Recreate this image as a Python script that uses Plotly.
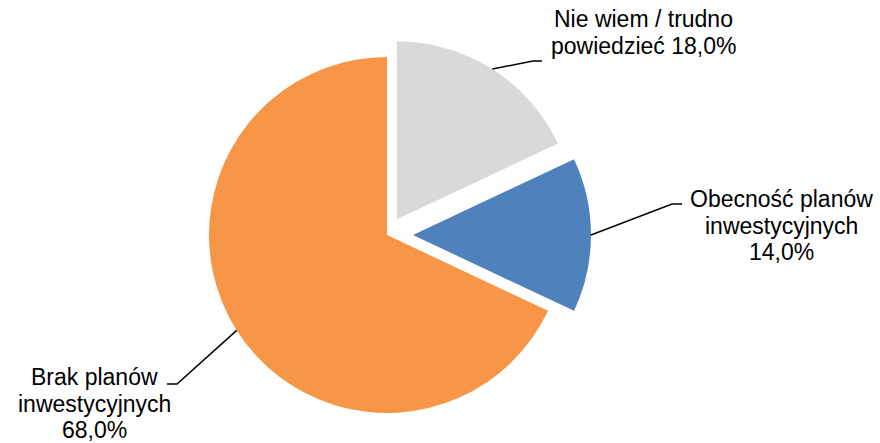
import math
import plotly.graph_objects as go

# ---- data ----
categories = ["Nie wiem / trudno powiedzieć", "Obecność planów inwestycyjnych", "Brak planów inwestycyjnych"]
values = [18.0, 14.0, 68.0]
label_lines = [["Nie wiem / trudno", "powiedzieć"],
               ["Obecność planów", "inwestycyjnych"],
               ["Brak planów", "inwestycyjnych"]]
colors = ["#D9D9D9", "#4F81BD", "#F79646"]
pulls = [0.104, 0.146, 0.0]

# ---- layout constants (pixels) ----
W, H = 880, 443
CX, CY, R = 387.0, 235.0, 178.0
FS = 23
LINE_H = 26.3
# label block: (center x, first baseline), leader elbow, leader end
label_pos = [(643, 27), (781, 207), (94, 385)]
leader_elbow = [((533, 61), (542, 61)), ((672, 204), (682, 204)), ((177, 384), (167, 384))]


def fmt_pct(v):
    return ("%.1f" % v).replace(".", ",") + "%"


def px(x):
    return x / W


def py(y):
    return 1 - y / H


max_pull = max(pulls)
half = R * (1 + max_pull)
dom_y = [py(CY + half), py(CY - half)]
dom_x = [px(CX - half - 30), px(CX + half + 30)]

fig = go.Figure(go.Pie(
    labels=categories,
    values=values,
    sort=False,
    direction="clockwise",
    rotation=0,
    pull=pulls,
    marker=dict(colors=colors, line=dict(width=0)),
    textinfo="none",
    hoverinfo="label+percent",
    domain=dict(x=dom_x, y=dom_y),
    showlegend=False,
))

total = sum(values)
cum = 0.0
shapes = []
annotations = []
for i, v in enumerate(values):
    mid = math.radians((cum + v / 2) / total * 360)
    cum += v
    pcx = CX + pulls[i] * R * math.sin(mid)
    pcy = CY - pulls[i] * R * math.cos(mid)
    sx = pcx + R * math.sin(mid)
    sy = pcy - R * math.cos(mid)
    (ex, ey), (fx, fy) = leader_elbow[i]
    shapes.append(dict(
        type="path", xref="paper", yref="paper",
        path="M %f %f L %f %f L %f %f" % (px(sx), py(sy), px(ex), py(ey), px(fx), py(fy)),
        line=dict(color="black", width=1.5),
    ))
    lines = list(label_lines[i])
    if i == 0:
        lines[-1] = lines[-1] + " " + fmt_pct(v)
    else:
        lines.append(fmt_pct(v))
    lx, lb = label_pos[i]
    for k, t in enumerate(lines):
        base = lb + k * LINE_H
        annotations.append(dict(
            text=t, xref="paper", yref="paper",
            x=px(lx), y=py(base - 0.33 * FS),
            xanchor="center", yanchor="middle",
            showarrow=False,
            font=dict(family="Liberation Sans, Arial, sans-serif", size=FS, color="black"),
        ))

fig.update_layout(
    width=W, height=H,
    margin=dict(l=0, r=0, t=0, b=0),
    paper_bgcolor="white",
    plot_bgcolor="white",
    shapes=shapes,
    annotations=annotations,
)

fig.write_html(
    "out.html",
    config={"displayModeBar": False},
    post_script="document.body.style.margin='0';document.body.style.padding='0';document.body.style.overflow='hidden';",
)
